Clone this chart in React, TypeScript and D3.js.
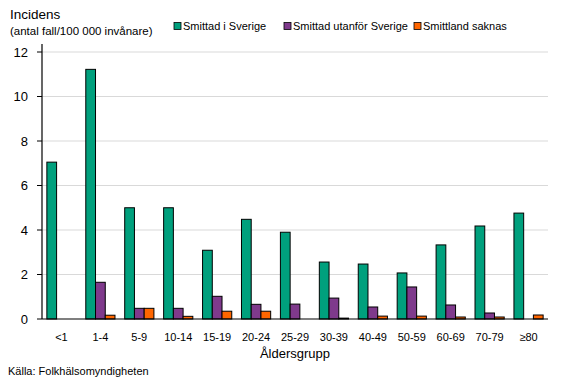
import * as d3 from 'd3'

const ageGroups = ['<1', '1-4', '5-9', '10-14', '15-19', '20-24', '25-29', '30-39', '40-49', '50-59', '60-69', '70-79', '≥80']
const seriesNames = ['Smittad i Sverige', 'Smittad utanför Sverige', 'Smittland saknas']
const seriesColors = ['#00a07d', '#7f3a8c', '#ff6600']
const inSweden = [7.05, 11.22, 5.0, 5.0, 3.09, 4.48, 3.9, 2.56, 2.47, 2.07, 3.33, 4.18, 4.76]
const outsideSweden = [0, 1.65, 0.48, 0.48, 1.02, 0.66, 0.67, 0.94, 0.54, 1.44, 0.63, 0.27, 0]
const unknown = [0, 0.17, 0.48, 0.12, 0.35, 0.35, 0, 0.04, 0.13, 0.13, 0.09, 0.09, 0.18]
const yTicks = [0, 2, 4, 6, 8, 10, 12]

const font = '"Liberation Sans", Arial, sans-serif'

export default function App() {
  const width = 567
  const height = 385
  const margin = { top: 52, right: 19, bottom: 66, left: 42 }

  const series = [inSweden, outsideSweden, unknown]

  const x = d3.scaleBand<string>()
    .domain(ageGroups)
    .range([margin.left, width - margin.right])
    .paddingInner(0)
    .paddingOuter(0)

  const inner = d3.scaleBand<number>()
    .domain([0, 1, 2])
    .range([x.bandwidth() / 8, x.bandwidth() * 7 / 8])

  const y = d3.scaleLinear()
    .domain([0, 12])
    .range([height - margin.bottom, margin.top])

  return (
    <svg width={width} height={height} style={{ position: 'absolute', left: 0, top: 0, fontFamily: font }}>
      <rect width={width} height={height} fill="#fff" />
      {/* gridlines */}
      {yTicks.filter(t => t > 0).map(t => (
        <line key={t} x1={margin.left} x2={width - margin.right} y1={y(t)} y2={y(t)} stroke="#d9d9d9" strokeWidth={1} />
      ))}
      {/* bars */}
      {ageGroups.map((g, i) => (
        <g key={g} transform={`translate(${x(g)},0)`}>
          {series.map((s, j) => s[i] > 0 ? (
            <rect key={j} x={inner(j)} y={y(s[i])} width={inner.bandwidth()} height={y(0) - y(s[i])}
              fill={seriesColors[j]} stroke="#000" strokeWidth={1} />
          ) : null)}
        </g>
      ))}
      {/* y axis */}
      <line x1={margin.left} x2={margin.left} y1={margin.top - 8} y2={y(0)} stroke="#000" strokeWidth={1.2} />
      {yTicks.map(t => (
        <g key={t}>
          <line x1={margin.left - 5} x2={margin.left} y1={y(t)} y2={y(t)} stroke="#000" />
          <text x={margin.left - 14} y={y(t)} dy="0.35em" textAnchor="end" fontSize={13}>{t}</text>
        </g>
      ))}
      {/* x axis */}
      <line x1={margin.left} x2={width - margin.right} y1={y(0)} y2={y(0)} stroke="#000" strokeWidth={1.2} />
      {ageGroups.map(g => (
        <text key={g} x={(x(g) ?? 0) + x.bandwidth() / 2} y={y(0) + 18} dy="0.35em" textAnchor="middle" fontSize={11}>{g}</text>
      ))}
      <text x={(margin.left + width - margin.right) / 2} y={353} dy="0.35em" textAnchor="middle" fontSize={13}>Åldersgrupp</text>
      <text x={8} y={371} dy="0.35em" fontSize={11}>Källa: Folkhälsomyndigheten</text>
      {/* title */}
      <text x={10} y={19} fontSize={13.5}>Incidens</text>
      <text x={10} y={35} fontSize={11.5}>(antal fall/100 000 invånare)</text>
      {/* legend */}
      {seriesNames.map((n, j) => {
        const lx = [174, 284, 414][j]
        return (
          <g key={n} transform={`translate(${lx},26)`}>
            <rect x={0} y={-3.5} width={7} height={7} fill={seriesColors[j]} stroke="#000" strokeWidth={0.8} />
            <text x={9} y={0} dy="0.35em" fontSize={11}>{n}</text>
          </g>
        )
      })}
    </svg>
  )
}
